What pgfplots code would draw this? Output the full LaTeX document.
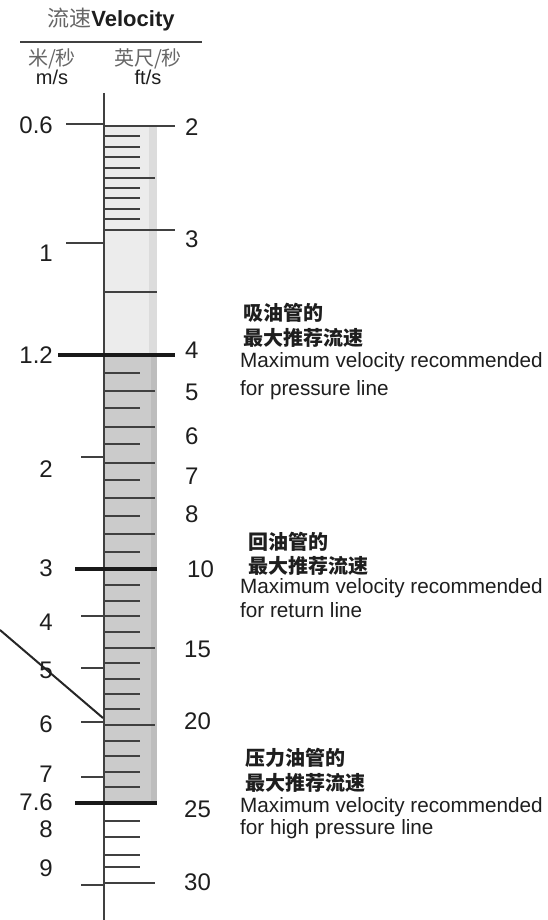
\documentclass[border=0pt]{standalone}
\usepackage{pgfplots}
\pgfplotsset{compat=1.18}
\usepackage{pgfplotstable}
\usepackage{fontspec}
\setmainfont{Liberation Sans}
\newfontfamily\cjk{Noto Sans CJK SC}

\definecolor{lightbar}{HTML}{ECECEC}
\definecolor{lightedge}{HTML}{DCDCDC}
\definecolor{darkbar}{HTML}{CBCBCB}
\definecolor{darkedge}{HTML}{BDBDBD}
\definecolor{tickgray}{HTML}{404040}
\definecolor{ink}{HTML}{1E1E1E}

% positions of scale marks, in picture pixels (y grows downwards)
% short right ticks
\pgfplotstableread{
x y u
104 136 36
104 147 36
104 157 36
104 168 36
104 188 36
104 198 36
104 209 36
104 219 36
104 373 36
104 408 36
104 444 36
104 480 36
104 516 36
104 552 36
104 585 36
104 601 36
104 616 36
104 632 36
104 663 36
104 679 36
104 694 36
104 709 36
104 741 36
104 756 36
104 772 36
104 787 36
104 821 36
104 837 36
104 855 36
104 867 36
}\shortticks
% medium right ticks
\pgfplotstableread{
x y u
104 178 51
104 292 53
104 391 51
104 427 51
104 463 51
104 498 51
104 534 51
104 648 51
104 725 51
104 883 51
}\medticks
% long right ticks (2 and 3 ft/s)
\pgfplotstableread{
x y u
104 126 71
104 230 71
}\longticks
% left ticks (m/s)
\pgfplotstableread{
x y u
66 124 38
66 243 38
81 457 23
81 616 23
81 668 23
81 722 23
81 777 23
81 885 23
}\leftticks
% heavy limit lines
\pgfplotstableread{
x y u
58 355 117
75 569 82
75 803 82
}\limits

\begin{document}
\begin{tikzpicture}
\begin{axis}[
    width=548pt, height=920pt,
    scale only axis,
    xmin=0, xmax=548,
    ymin=0, ymax=920,
    y dir=reverse,
    hide axis,
    clip=false,
]

% shaded column
\addplot[fill=lightbar, draw=none] coordinates {(104,125) (157,125) (157,355) (104,355)} --cycle;
\addplot[fill=lightedge, draw=none] coordinates {(149,125) (157,125) (157,355) (149,355)} --cycle;
\addplot[fill=darkbar, draw=none] coordinates {(104,355) (157,355) (157,803) (104,803)} --cycle;
\addplot[fill=darkedge, draw=none] coordinates {(151,355) (157,355) (157,803) (151,803)} --cycle;

% spine
\addplot[color=tickgray, line width=1.6pt] coordinates {(104,93) (104,920)};

% ticks
\addplot[color=tickgray, line width=2pt, quiver={u=\thisrow{u}, v=0}] table[x=x, y=y] {\shortticks};
\addplot[color=tickgray, line width=1.7pt, quiver={u=\thisrow{u}, v=0}] table[x=x, y=y] {\medticks};
\addplot[color=tickgray, line width=1.7pt, quiver={u=\thisrow{u}, v=0}] table[x=x, y=y] {\longticks};
\addplot[color=tickgray, line width=1.7pt, quiver={u=\thisrow{u}, v=0}] table[x=x, y=y] {\leftticks};
\addplot[color=black!90, line width=3.6pt, quiver={u=\thisrow{u}, v=0}] table[x=x, y=y] {\limits};

% example reading line
\addplot[color=black!85, line width=2pt] coordinates {(0,630) (103,718)};

% header
\addplot[color=tickgray, line width=1.6pt] coordinates {(20,42) (202,42)};
\node[ink, font=\fontsize{22}{24}\selectfont] at (axis cs:111,20) {{\cjk\color{black!60}流速}\textbf{Velocity}};
\node[ink, align=center, font=\fontsize{20}{19}\selectfont] at (axis cs:52,67) {{\cjk\color{black!60}米/秒}\\m/s};
\node[ink, align=center, font=\fontsize{20}{19}\selectfont] at (axis cs:148,67) {{\cjk\color{black!60}英尺/秒}\\ft/s};

% m/s labels
\begin{scope}[every node/.style={ink, anchor=east, font=\fontsize{24}{24}\selectfont, inner sep=0pt}]
\node at (axis cs:53,125) {0.6};
\node at (axis cs:53,253) {1};
\node at (axis cs:53,355) {1.2};
\node at (axis cs:53,469) {2};
\node at (axis cs:53,568) {3};
\node at (axis cs:53,622) {4};
\node at (axis cs:53,670) {5};
\node at (axis cs:53,724) {6};
\node at (axis cs:53,774) {7};
\node at (axis cs:53,802) {7.6};
\node at (axis cs:53,829) {8};
\node at (axis cs:53,868) {9};
\end{scope}

% ft/s labels
\begin{scope}[every node/.style={ink, anchor=west, font=\fontsize{24}{24}\selectfont, inner sep=0pt}]
\node at (axis cs:185,127) {2};
\node at (axis cs:185,239) {3};
\node at (axis cs:185,350) {4};
\node at (axis cs:185,392) {5};
\node at (axis cs:185,436) {6};
\node at (axis cs:185,476) {7};
\node at (axis cs:185,514) {8};
\node at (axis cs:187,569) {10};
\node at (axis cs:184,649) {15};
\node at (axis cs:184,721) {20};
\node at (axis cs:184,809) {25};
\node at (axis cs:184,882) {30};
\end{scope}

% notes
\begin{scope}[every node/.style={ink, anchor=west, inner sep=0pt, font=\fontsize{20.7}{20}\selectfont}]
\node[font=\cjk\bfseries\fontsize{20}{20}\selectfont] at (axis cs:243,313) {吸油管的};
\node[font=\cjk\bfseries\fontsize{20}{20}\selectfont] at (axis cs:243,338) {最大推荐流速};
\node at (axis cs:240,362) {Maximum velocity recommended};
\node at (axis cs:240,390) {for pressure line};

\node[font=\cjk\bfseries\fontsize{20}{20}\selectfont] at (axis cs:248,542) {回油管的};
\node[font=\cjk\bfseries\fontsize{20}{20}\selectfont] at (axis cs:248,566) {最大推荐流速};
\node at (axis cs:240,588) {Maximum velocity recommended};
\node at (axis cs:240,610) {for return line};

\node[font=\cjk\bfseries\fontsize{20}{20}\selectfont] at (axis cs:245,758) {压力油管的};
\node[font=\cjk\bfseries\fontsize{20}{20}\selectfont] at (axis cs:245,783) {最大推荐流速};
\node at (axis cs:240,807) {Maximum velocity recommended};
\node at (axis cs:240,829) {for high pressure line};
\end{scope}

\end{axis}
\pgfresetboundingbox
\path (current axis.south west) rectangle (current axis.north east);
\end{tikzpicture}
\end{document}
